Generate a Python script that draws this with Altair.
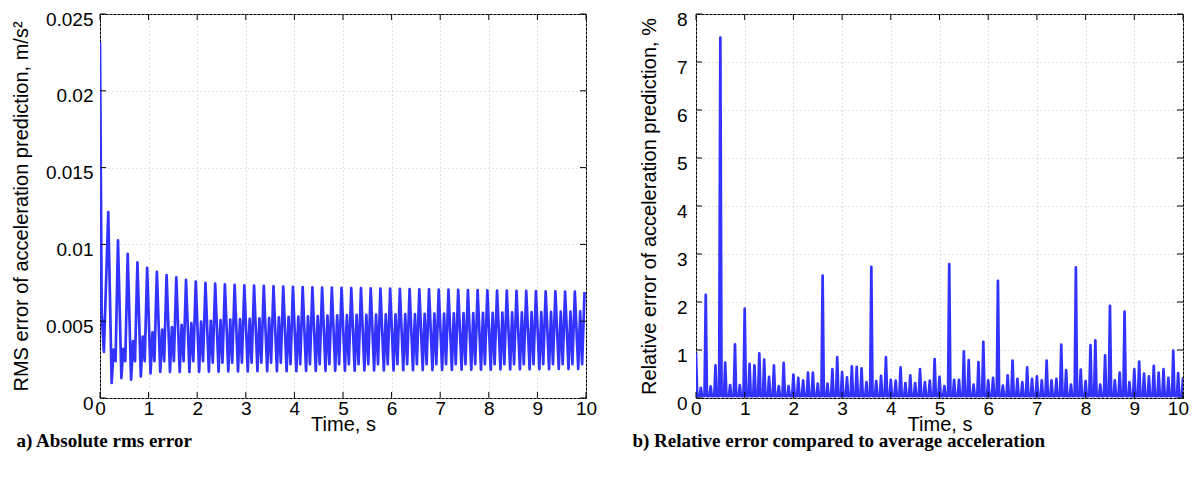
import altair as alt
import pandas as pd

BLUE = "#3333ff"

# ---------------- panel a) RMS error (m/s^2) ----------------
START_T = [0.0, 0.035, 0.08]
START_V = [0.0232, 0.0055, 0.0030]

PEAK_T = [0.17, 0.37, 0.57, 0.77, 0.97, 1.17, 1.37, 1.57, 1.77, 1.97,
          2.17, 2.37, 2.57, 2.77, 2.97, 3.17, 3.37, 3.57, 3.77, 3.97,
          4.17, 4.37, 4.57, 4.77, 4.97, 5.17, 5.37, 5.57, 5.77, 5.97,
          6.17, 6.37, 6.57, 6.77, 6.97, 7.17, 7.37, 7.57, 7.77, 7.97,
          8.17, 8.37, 8.57, 8.77, 8.97, 9.17, 9.37, 9.57, 9.77, 9.97]
PEAK_V = [0.0121, 0.01026, 0.00938, 0.00883, 0.00848, 0.00822, 0.00800, 0.00786, 0.00770, 0.00758,
          0.00750, 0.00744, 0.00740, 0.00736, 0.00734, 0.00732, 0.00730, 0.00728, 0.00725, 0.00723,
          0.00722, 0.00720, 0.00719, 0.00718, 0.00717, 0.00716, 0.00715, 0.00714, 0.00713, 0.00712,
          0.00710, 0.00709, 0.00708, 0.00707, 0.00706, 0.00705, 0.00704, 0.00703, 0.00702, 0.00701,
          0.00700, 0.00699, 0.00698, 0.00697, 0.00696, 0.00695, 0.00694, 0.00693, 0.00692, 0.00690]
# deep trough after each peak
TROUGH_V = [0.00098, 0.0013, 0.0012, 0.0014, 0.0016, 0.0017, 0.0017, 0.0017, 0.0017, 0.0017,
            0.00172, 0.00172, 0.00173, 0.00173, 0.00173, 0.00174, 0.00174, 0.00174, 0.00175, 0.00175,
            0.00176, 0.00176, 0.00177, 0.00177, 0.00178, 0.00178, 0.00179, 0.00179, 0.0018, 0.0018,
            0.00181, 0.00181, 0.00182, 0.00182, 0.00183, 0.00183, 0.00184, 0.00184, 0.00185, 0.00185,
            0.00186, 0.00186, 0.00187, 0.00187, 0.00188, 0.00188, 0.00189, 0.00189, 0.0019]
# secondary bump
BUMP_V = [0.00315, 0.0032, 0.0037, 0.0040, 0.00427, 0.00445, 0.00462, 0.00477, 0.00488, 0.00497,
          0.00503, 0.00507, 0.0051, 0.00513, 0.00516, 0.00519, 0.00522, 0.00525, 0.00528, 0.0053,
          0.00532, 0.00534, 0.00536, 0.00538, 0.0054, 0.00541, 0.00542, 0.00543, 0.00544, 0.00545,
          0.00546, 0.00547, 0.00548, 0.00549, 0.0055, 0.00551, 0.00552, 0.00553, 0.00554, 0.00555,
          0.00556, 0.00557, 0.00558, 0.00559, 0.0056, 0.00561, 0.00562, 0.00563, 0.00564]
# shallow dip before the next peak
DIP_V = [0.0024, 0.0024, 0.0024, 0.0024, 0.0024, 0.0024, 0.0024, 0.0024, 0.0024, 0.0024,
         0.0023, 0.0023, 0.0023, 0.0023, 0.0023, 0.0023, 0.0023, 0.0023, 0.0022, 0.0022,
         0.0022, 0.0022, 0.0022, 0.0022, 0.0022, 0.0022, 0.0022, 0.0022, 0.0022, 0.0022,
         0.0022, 0.0022, 0.0022, 0.0022, 0.0022, 0.0022, 0.0022, 0.0022, 0.0022, 0.0022,
         0.0022, 0.0022, 0.0022, 0.0022, 0.0022, 0.0022, 0.0022, 0.0022, 0.0022]

# ---------------- panel b) relative error (%) ----------------
SPIKE_T = [0.0, 0.1, 0.2, 0.3, 0.4, 0.5, 0.6, 0.7, 0.8, 0.9,
           1.0, 1.1, 1.2, 1.3, 1.4, 1.5, 1.6, 1.7, 1.8, 1.9,
           2.0, 2.1, 2.2, 2.3, 2.4, 2.5, 2.6, 2.7, 2.8, 2.9,
           3.0, 3.1, 3.2, 3.3, 3.4, 3.5, 3.6, 3.7, 3.8, 3.9,
           4.0, 4.1, 4.2, 4.3, 4.4, 4.5, 4.6, 4.7, 4.8, 4.9,
           5.0, 5.1, 5.2, 5.3, 5.4, 5.5, 5.6, 5.7, 5.8, 5.9,
           6.0, 6.1, 6.2, 6.3, 6.4, 6.5, 6.6, 6.7, 6.8, 6.9,
           7.0, 7.1, 7.2, 7.3, 7.4, 7.5, 7.6, 7.7, 7.8, 7.9,
           8.0, 8.1, 8.2, 8.3, 8.4, 8.5, 8.6, 8.7, 8.8, 8.9,
           9.0, 9.1, 9.2, 9.3, 9.4, 9.5, 9.6, 9.7, 9.8, 9.9, 10.0]
SPIKE_V = [0.94, 0.21, 2.15, 0.24, 0.68, 7.51, 0.74, 0.27, 1.12, 0.27,
           1.86, 0.71, 0.68, 0.93, 0.80, 0.44, 0.68, 0.25, 0.73, 0.25,
           0.49, 0.42, 0.37, 0.53, 0.53, 0.30, 2.55, 0.30, 0.60, 0.85,
           0.54, 0.43, 0.66, 0.65, 0.62, 0.33, 2.73, 0.35, 0.46, 0.85,
           0.38, 0.36, 0.64, 0.31, 0.47, 0.31, 0.60, 0.33, 0.36, 0.81,
           0.44, 0.25, 2.79, 0.38, 0.38, 0.97, 0.79, 0.28, 0.75, 1.17,
           0.37, 0.42, 2.44, 0.26, 0.47, 0.78, 0.40, 0.33, 0.64, 0.40,
           0.45, 0.37, 0.78, 0.37, 0.40, 1.11, 0.58, 0.28, 2.72, 0.59,
           0.35, 1.10, 1.20, 0.28, 0.89, 1.92, 0.37, 0.53, 1.80, 0.33,
           0.60, 0.76, 0.51, 0.45, 0.67, 0.53, 0.60, 0.42, 0.99, 0.52, 0.43]
BASE_V = 0.04

X_TICKS = [0, 1, 2, 3, 4, 5, 6, 7, 8, 9, 10]
Y1_TICKS = [0, 0.005, 0.01, 0.015, 0.02, 0.025]
Y2_TICKS = [0, 1, 2, 3, 4, 5, 6, 7, 8]

# ---- build tables ----
rows_a = [(t, v) for t, v in zip(START_T, START_V)]
for k, tp in enumerate(PEAK_T):
    rows_a.append((tp, PEAK_V[k]))
    if k < len(TROUGH_V):
        rows_a.append((tp + 0.07, TROUGH_V[k]))
        rows_a.append((tp + 0.11, BUMP_V[k]))
        rows_a.append((tp + 0.15, DIP_V[k]))
df_a = pd.DataFrame(rows_a, columns=["t", "v"])

rows_b = []
for i, (t, v) in enumerate(zip(SPIKE_T, SPIKE_V)):
    if i > 0:
        rows_b.append((t - 0.025, BASE_V))
    rows_b.append((t, v))
    if i < len(SPIKE_T) - 1:
        rows_b.append((t + 0.025, BASE_V))
df_b = pd.DataFrame(rows_b, columns=["t", "v"])

FONT = "Liberation Sans"
H = 384


def panel(df, ydom, yticks, yfmt, ytitle, caption, cap_dx, ytitle_pad, ylabel_pad,
          width, xflush):
    xs = alt.Scale(domain=[0, 10], nice=False, zero=False)
    ys = alt.Scale(domain=ydom, nice=False, zero=False)
    common = dict(grid=True, gridDash=[1, 3], gridColor="#c4c4c4", gridWidth=1,
                  ticks=False, domain=False, labelFont=FONT, labelFontSize=19,
                  labelColor="black", titleFont=FONT, titleFontSize=20,
                  titleFontWeight="normal", titleColor="black")
    if xflush:
        flush = dict(labelFlush=True, labelFlushOffset=5.5)
    else:
        flush = dict(labelFlush=False)
    xaxis = alt.Axis(values=X_TICKS, title="Time, s", labelPadding=1,
                     titlePadding=-4, **flush, **common)
    yaxis = alt.Axis(values=yticks, format=yfmt, title=ytitle,
                     labelPadding=ylabel_pad, titlePadding=ytitle_pad,
                     labelOffset=5, labelFlush=False, **common)
    line = alt.Chart(df).mark_line(color=BLUE, strokeWidth=2.7, clip=True,
                                   strokeJoin="round").encode(
        x=alt.X("t:Q", scale=xs, axis=xaxis),
        y=alt.Y("v:Q", scale=ys, axis=yaxis),
    )
    xt = pd.DataFrame({"t": X_TICKS})
    yt = pd.DataFrame({"v": yticks})
    top = alt.Chart(xt).mark_rule(color="black").encode(
        x=alt.X("t:Q", scale=xs, axis=xaxis), y=alt.value(0), y2=alt.value(6))
    bot = alt.Chart(xt).mark_rule(color="black").encode(
        x=alt.X("t:Q", scale=xs, axis=xaxis), y=alt.value(H), y2=alt.value(H - 6))
    lft = alt.Chart(yt).mark_rule(color="black").encode(
        y=alt.Y("v:Q", scale=ys, axis=yaxis), x=alt.value(0), x2=alt.value(6))
    rgt = alt.Chart(yt).mark_rule(color="black").encode(
        y=alt.Y("v:Q", scale=ys, axis=yaxis), x=alt.value(width), x2=alt.value(width - 6))
    return alt.layer(line, top, bot, lft, rgt).properties(
        width=width, height=H,
        title=alt.TitleParams(caption, orient="bottom", anchor="start",
                              font="Liberation Serif", fontSize=19, fontWeight="bold",
                              color="black", offset=-2, dx=cap_dx),
    )


left = panel(df_a, [0, 0.025], Y1_TICKS, "~g",
             "RMS error of acceleration prediction, m/s²",
             "a) Absolute rms error", 5, 14, 7, 486, False)
right = panel(df_b, [0, 8], Y2_TICKS, "d",
              "Relative error of acceleration prediction, %",
              "b) Relative error compared to average acceleration", -7, 17, 9, 487, True)

chart = alt.hconcat(left, right, spacing=33).properties(
    padding={"left": 2, "top": 1, "right": 0, "bottom": 0}
).configure_view(stroke="black", strokeWidth=1)

chart.save("out.html", embed_options={"renderer": "svg", "actions": False})
